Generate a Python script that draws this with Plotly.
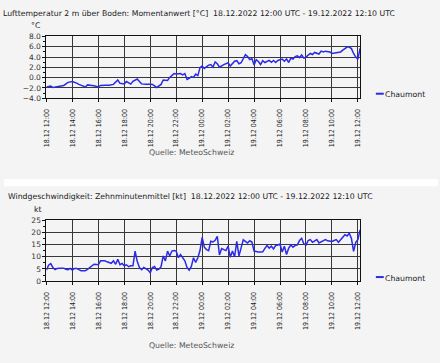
import pandas as pd
import plotly.graph_objects as go

W, H = 440, 363

# ---- data (minutes after 18.12.2022 12:00 UTC) ----
temp_minutes = [0, 20, 30, 50, 70, 80, 100, 120, 140, 150, 180, 190, 210, 220, 240, 250, 270, 290, 310, 330,
                340, 360, 370, 390, 400, 420, 430, 440, 460, 470, 480, 490, 510, 530, 540, 560, 570, 590, 600,
                620, 630, 640, 650, 660, 670, 680, 690, 700, 710, 720, 730, 750, 760, 770, 780, 790, 800, 820,
                840, 850, 870, 880, 890, 900, 920, 930, 940, 950, 960, 970, 980, 990, 1000, 1010, 1030, 1040,
                1050, 1060, 1070, 1090, 1100, 1110, 1120, 1130, 1140, 1150, 1160, 1170, 1180, 1190, 1200, 1210,
                1220, 1230, 1240, 1260, 1270, 1280, 1290, 1310, 1320, 1340, 1360, 1370, 1390, 1400, 1410, 1420,
                1430, 1440, 1450]
temp_values = [-1.8, -1.6, -1.9, -1.75, -1.6, -1.5, -0.9, -0.75, -1.05, -1.3, -1.8, -1.4, -1.5, -1.55, -1.8, -1.5,
               -1.45, -1.45, -1.3, -0.45, -1.1, -1.2, -0.75, -1.25, -0.7, -0.25, -0.75, -1.2, -1.25, -1.2, -1.25,
               -1.3, -1.9, -1.3, -0.45, -0.55, 0.05, 0.8, 0.7, 0.8, 0.55, 0.8, -0.35, -0.15, 0.2, 0.05, 0.7, 0.4,
               1.95, 2.25, 1.8, 2.45, 2.55, 2.05, 3.05, 2.7, 2.05, 2.55, 2.9, 2.25, 3.2, 3.3, 2.7, 2.9, 4.45, 4.1,
               3.5, 3.7, 2.45, 3.5, 3.15, 2.55, 3.3, 2.95, 3.35, 3.0, 3.35, 2.95, 3.35, 3.6, 3.2, 3.65, 2.95, 3.8,
               3.6, 4.1, 4.25, 3.9, 4.4, 3.8, 3.95, 4.4, 4.7, 4.5, 4.9, 4.6, 5.15, 5.0, 5.15, 5.0, 4.7, 4.85, 5.0,
               5.35, 5.95, 5.95, 5.65, 4.7, 4.0, 3.6, 5.7]

wind_minutes = list(range(0, 1460, 10))
wind_values = [4.5, 6.5, 7.2, 5.6, 4.7, 5.2, 5.3, 5.4, 5.3, 4.9, 4.7, 5.2, 4.5, 5.2, 5.2, 4.7, 4.3, 4.3, 4.3, 4.8,
               5.6, 6.3, 6.9, 6.8, 6.7, 8.3, 8.3, 8.3, 7.9, 7.6, 7.3, 8.3, 6.9, 8.9, 6.7, 7.2, 6.3, 6.7, 5.9, 6.3,
               6.3, 12.3, 8.0, 5.6, 4.7, 5.6, 5.1, 4.5, 3.4, 5.6, 6.0, 4.5, 4.9, 5.9, 10.3, 8.3, 12.3, 10.3, 12.3,
               12.5, 12.3, 9.6, 10.9, 9.5, 8.3, 5.6, 4.5, 6.0, 9.6, 7.6, 9.6, 12.5, 17.9, 13.9, 12.9, 12.5, 16.3,
               16.0, 16.7, 18.3, 10.7, 13.3, 12.9, 12.5, 14.3, 9.8, 12.3, 9.9, 16.3, 10.3, 13.6, 16.9, 16.3, 15.6,
               16.5, 16.0, 12.3, 12.0, 11.9, 11.9, 12.0, 13.4, 14.6, 13.5, 14.3, 13.2, 14.6, 14.8, 15.2, 11.9,
               14.3, 10.9, 13.5, 14.8, 13.9, 14.6, 14.8, 16.6, 17.5, 15.2, 14.8, 16.6, 17.0, 15.9, 16.5, 17.0,
               15.6, 16.0, 16.6, 17.0, 16.5, 16.2, 16.2, 16.6, 17.0, 15.9, 17.0, 18.0, 19.0, 18.5, 19.6, 17.5,
               12.2, 15.9, 17.0, 21.0]

station = "Chaumont"
title_temp = "Lufttemperatur 2 m über Boden: Momentanwert [°C]  18.12.2022 12:00 UTC - 19.12.2022 12:10 UTC"
title_wind = "Windgeschwindigkeit: Zehnminutenmittel [kt]  18.12.2022 12:00 UTC - 19.12.2022 12:10 UTC"
unit_temp = "°C"
unit_wind = "kt"
source = "Quelle: MeteoSchweiz"
start = "2022-12-18 12:00"
end = "2022-12-19 12:10"

base = pd.Timestamp(start)
t_temp = [base + pd.Timedelta(minutes=m) for m in temp_minutes]
t_wind = [base + pd.Timedelta(minutes=m) for m in wind_minutes]

LINE = "#2a2ae8"
FONT = "DejaVu Sans"
FONT_TICK = "DejaVu Sans Condensed, DejaVu Sans"
GRID = "#383838"
BG = "#f4f4f4"

def py(px):
    return 1 - px / H

def px_x(px):
    return px / W

fig = go.Figure()
fig.add_trace(go.Scatter(x=t_temp, y=temp_values, mode="lines", line=dict(color=LINE, width=1.5),
                         name=station, showlegend=False, xaxis="x", yaxis="y"))
fig.add_trace(go.Scatter(x=t_wind, y=wind_values, mode="lines", line=dict(color=LINE, width=1.5),
                         name=station, showlegend=False, xaxis="x2", yaxis="y2"))

xcommon = dict(type="date", range=[start, end], dtick=2 * 3600 * 1000, tick0=start,
               tickformat="%d.%m %H:%M", tickangle=-90, showgrid=True, gridcolor=GRID, gridwidth=1,
               showline=True, linecolor="#111", linewidth=1, mirror=True,
               ticks="outside", ticklen=3, tickcolor="#111", ticklabelstandoff=4,
               tickfont=dict(family=FONT_TICK, size=7, color="#222"), zeroline=False)
ycommon = dict(showgrid=True, gridcolor=GRID, gridwidth=1, showline=True, linecolor="#111", linewidth=1,
               mirror=True, ticks="outside", ticklen=3, tickcolor="#111",
               tickfont=dict(family=FONT, size=7.5, color="#333"), zeroline=False,
               minor=dict(ticks="outside", ticklen=2, tickcolor="#111", showgrid=False))

xd = [px_x(43), px_x(361)]
fig.update_layout(
    width=W, height=H, margin=dict(l=0, r=0, t=0, b=0),
    paper_bgcolor=BG, plot_bgcolor=BG, showlegend=False,
    xaxis=dict(domain=xd, anchor="y", **xcommon),
    yaxis=dict(domain=[py(96.7), py(33.3)], anchor="x", range=[-4, 8], dtick=2, tickformat=".1f",
               minor_dtick=1, **ycommon),
    xaxis2=dict(domain=xd, anchor="y2", **xcommon),
    yaxis2=dict(domain=[py(284.2), py(221.5)], anchor="x2", range=[0, 25], dtick=5,
                minor_dtick=2.5, **ycommon),
)

shapes = [
    dict(type="rect", xref="paper", yref="paper", x0=0, x1=1, y0=py(187), y1=py(179.5),
         fillcolor="white", line=dict(width=0), layer="below"),
    dict(type="line", xref="paper", yref="paper", x0=px_x(377), x1=px_x(385), y0=py(92), y1=py(92),
         line=dict(color=LINE, width=2)),
    dict(type="line", xref="paper", yref="paper", x0=px_x(377), x1=px_x(385), y0=py(280), y1=py(280),
         line=dict(color=LINE, width=2)),
]
fig.update_layout(shapes=shapes)

def ann(text, x, y, size=7.75, color="#222", xanchor="left"):
    return dict(text=text, x=px_x(x), y=py(y), xref="paper", yref="paper", showarrow=False,
                xanchor=xanchor, yanchor="middle", font=dict(family=FONT, size=size, color=color))

fig.update_layout(annotations=[
    ann(title_temp, -3, 10),
    ann(unit_temp, 25, 22),
    ann(station, 384, 93),
    ann(source, 190, 152, color="#555", xanchor="center"),
    ann(title_wind, 2, 197),
    ann(unit_wind, 28, 211),
    ann(station, 384, 281),
    ann(source, 190, 350, color="#555", xanchor="center"),
])

fig.write_html("out.html", config={"displayModeBar": False},
               post_script="document.body.style.margin='0';document.body.style.padding='0';"
                           "document.body.style.overflow='hidden';")
